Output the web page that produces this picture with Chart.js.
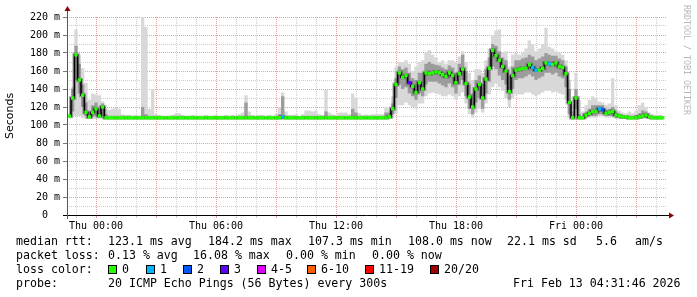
<!DOCTYPE html>
<html>
<head>
<meta charset="utf-8">
<script src="https://cdn.jsdelivr.net/npm/chart.js@4/dist/chart.umd.min.js"></script>
<style>
  body { margin: 0; background: #fff; }
  #wrap { position: relative; width: 697px; height: 297px; overflow: hidden; }
  canvas { position: absolute; left: 0; top: 0; }
  .t { position: absolute; font: 11.6px "DejaVu Sans Mono", monospace; color: #000; white-space: pre; line-height: 14px; }
  .box { position: absolute; width: 7px; height: 7px; border: 1px solid #000; }
  #rrd { position: absolute; left: 682px; top: 5px; font: 8.3px "DejaVu Sans Mono", monospace; color: #b8b8b8; writing-mode: vertical-rl; white-space: pre; }
</style>
</head>
<body>
<div id="wrap">
  <canvas id="c" width="697" height="297"></canvas>
  <div id="rrd">RRDTOOL / TOBI OETIKER</div>
  <div id="legend"></div>
</div>
<script>
// minutes relative to Thu 00:00, one sample every 10 min
const startMin = -80, stepMin = 10;

// median rtt (ms)
const med = [
  110,130,178,150,133,114,109,114,118,110,
  120,108,108,108,108,108,108,108,108,108,
  108,108,108,108,108,108,108,108,108,108,
  108,108,108,108,108,108,108,108,108,108,
  108,108,108,108,108,108,108,108,108,108,
  108,108,108,108,108,108,108,108,108,108,
  108,108,108,108,109,108,108,108,108,108,
  108,108,108,108,108,108,108,108,108,108,
  108,108,108,108,108,108,108,108,108,108,
  108,108,108,108,108,108,109,118,145,158,
  153,155,147,143,136,147,140,158,157,158,
  159,158,156,154,158,155,147,157,162,146,
  131,120,140,145,130,151,163,183,177,172,
  165,160,137,155,161,162,163,163,167,164,
  161,161,163,169,168,167,169,165,164,157,
  125,108,130,108,108,111,113,115,115,118,
  117,113,114,115,111,110,109,109,108,108,
  108,109,110,111,109,108,108,108,108
];
// smoke: highest / lowest ping
const hi = [
  128,142,206,178,163,147,128,135,134,133,
  126,118,117,118,119,118,112,111,111,110,
  111,110,222,209,118,140,112,111,110,110,
  110,111,113,113,111,110,110,111,110,110,
  110,111,110,110,111,110,110,111,110,111,
  110,112,114,133,115,111,110,111,111,110,
  111,110,112,120,136,115,111,111,112,110,
  112,116,116,115,116,112,111,139,114,112,
  111,114,114,114,112,135,130,113,111,112,
  111,112,112,112,112,120,118,132,165,170,
  170,172,168,160,165,170,172,180,183,178,
  175,170,172,168,172,172,170,176,182,170,
  158,150,162,162,158,172,185,200,205,206,
  180,182,165,178,180,178,180,185,194,190,
  182,185,190,208,187,185,182,180,178,172,
  150,115,158,128,115,122,128,132,130,126,
  125,122,124,152,122,116,114,113,115,113,
  116,122,125,120,114,112,111,111,111
];
const lo = [
  107,108,110,110,108,107,107,107,107,107,
  107,107,107,107,107,107,107,107,107,107,
  107,107,107,107,107,107,107,107,107,107,
  107,107,107,107,107,107,107,107,107,107,
  107,107,107,107,107,107,107,107,107,107,
  107,107,107,107,107,107,107,107,107,107,
  107,107,107,107,107,107,107,107,107,107,
  107,107,107,107,107,107,107,107,107,107,
  107,107,107,107,107,107,107,107,107,107,
  107,107,107,107,107,107,107,108,112,122,
  122,125,122,120,118,124,124,132,135,136,
  135,134,132,132,134,132,128,132,136,124,
  112,108,114,118,114,124,134,142,146,142,
  138,130,120,130,134,134,134,136,136,134,
  132,134,136,138,138,136,137,135,134,128,
  108,107,110,107,107,107,108,108,108,110,
  110,108,108,108,107,107,107,107,107,107,
  107,107,107,108,107,107,107,107,107
];
// smoke: dense middle part of the pings
const dhi = [
  114,140,188,168,145,125,115,122,125,118,
  124,112,109,109,109,109,109,109,109,109,
  109,109,120,112,109,110,109,109,109,109,
  109,109,109,109,109,109,109,109,109,109,
  109,109,109,109,109,109,109,109,109,109,
  109,109,109,125,110,109,109,109,109,109,
  109,109,109,112,132,110,109,109,109,109,
  109,110,110,109,110,109,109,115,109,109,
  109,109,109,109,109,118,114,109,109,109,
  109,109,109,109,109,114,114,124,152,165,
  162,164,158,152,150,158,158,168,170,168,
  167,166,164,162,166,164,158,168,178,160,
  145,135,150,155,145,162,175,190,188,182,
  175,172,155,165,172,172,174,175,178,176,
  172,174,176,180,178,177,177,174,172,165,
  140,110,140,112,110,114,118,122,122,122,
  122,117,118,120,115,112,111,110,110,110,
  111,113,116,115,111,110,109,109,109
];
const dlo = [
  108,115,150,135,120,110,108,109,110,108,
  110,107,107,107,107,107,107,107,107,107,
  107,107,107,107,107,107,107,107,107,107,
  107,107,107,107,107,107,107,107,107,107,
  107,107,107,107,107,107,107,107,107,107,
  107,107,107,107,107,107,107,107,107,107,
  107,107,107,107,107,107,107,107,107,107,
  107,107,107,107,107,107,107,107,107,107,
  107,107,107,107,107,107,107,107,107,107,
  107,107,107,107,107,107,108,112,130,145,
  140,142,135,132,128,135,132,145,148,148,
  148,146,144,142,146,142,135,145,150,132,
  118,112,125,130,118,135,148,165,162,155,
  150,145,128,140,150,152,152,154,156,154,
  150,152,154,158,158,156,158,154,152,142,
  112,107,118,107,107,108,110,110,110,112,
  112,110,110,110,108,108,107,107,107,107,
  107,107,108,108,107,107,107,107,107
];
// samples with packet loss: index and loss class
const lossIdx = [64, 102, 139, 140, 144, 159, 160];
const lossLevel = [1, 3, 1, 1, 1, 1, 2];

const lossLabels = ["0", "1", "2", "3", "4-5", "6-10", "11-19", "20/20"];
const lossColors = ["#26ff00", "#00b8ff", "#0059ff", "#5e00ff", "#dd00ff", "#ff5e00", "#ff0000", "#a10000"];

// x grid every hour, labels every 6 hours
const gridMinutes = [];
for (let m = -60; m <= 1680; m += 60) gridMinutes.push(m);
const tickMinutes = [0, 360, 720, 1080, 1440];
const tickNames = ["Thu 00:00", "Thu 06:00", "Thu 12:00", "Thu 18:00", "Fri 00:00"];

const times = med.map((_, i) => startMin + i * stepMin);
const pts = arr => arr.map((v, i) => ({ x: times[i], y: v }));

const ptColors = med.map(() => lossColors[0]);
lossIdx.forEach((k, j) => { ptColors[k] = lossColors[lossLevel[j]]; });

const gridGray = "#cdcdcd";
const gridRed = "#e3a0a0";

const axesPlugin = {
  id: "axes",
  afterDraw(chart) {
    const { ctx, chartArea: a } = chart;
    ctx.save();
    ctx.lineWidth = 1;
    ctx.strokeStyle = "#000";
    ctx.beginPath();
    ctx.moveTo(a.left - 4, a.bottom + 0.5);
    ctx.lineTo(a.right + 3, a.bottom + 0.5);
    ctx.stroke();
    ctx.strokeStyle = "#555";
    ctx.beginPath();
    ctx.moveTo(a.left + 0.5, a.bottom + 4);
    ctx.lineTo(a.left + 0.5, a.top - 7);
    ctx.stroke();
    ctx.fillStyle = "#8b0000";
    ctx.beginPath();
    ctx.moveTo(a.right + 2, a.bottom - 2.5);
    ctx.lineTo(a.right + 7, a.bottom + 0.5);
    ctx.lineTo(a.right + 2, a.bottom + 3.5);
    ctx.fill();
    ctx.beginPath();
    ctx.moveTo(a.left - 2.5, a.top - 6);
    ctx.lineTo(a.left + 0.5, a.top - 11);
    ctx.lineTo(a.left + 3.5, a.top - 6);
    ctx.fill();
    ctx.restore();
  }
};

const bandOpts = { borderWidth: 0, borderColor: "transparent", pointRadius: 0, stepped: "middle" };

new Chart(document.getElementById("c"), {
  type: "line",
  data: {
    datasets: [
      { data: pts(med), showLine: false, pointStyle: "rect", pointRadius: 2.4, pointBorderWidth: 0,
        pointBackgroundColor: ptColors, order: 0 },
      { data: pts(med), borderColor: "#000", borderWidth: 1.5, pointRadius: 0, stepped: "middle", order: 1 },
      { data: pts(med), borderColor: "rgba(40,40,40,0.35)", borderWidth: 4, pointRadius: 0, stepped: "middle", order: 1.5 },
      { data: pts(dhi), fill: "+1", backgroundColor: "#9c9c9c", ...bandOpts, order: 2 },
      { data: pts(dlo), fill: false, ...bandOpts, order: 2 },
      { data: pts(hi), fill: "+1", backgroundColor: "#d8d8d8", ...bandOpts, order: 3 },
      { data: pts(lo), fill: false, ...bandOpts, order: 3 }
    ]
  },
  options: {
    responsive: false,
    animation: false,
    events: [],
    layout: { padding: { left: 0, top: 17, right: 30, bottom: 0 } },
    plugins: { legend: { display: false }, tooltip: { enabled: false } },
    scales: {
      x: {
        type: "linear", min: -87, max: 1713,
        afterFit(s) { s.height = 82; },
        afterBuildTicks(s) { s.ticks = gridMinutes.map(v => ({ value: v })); },
        ticks: {
          autoSkip: false, maxRotation: 0, padding: 2,
          color: "#000", font: { family: "DejaVu Sans Mono", size: 10 },
          callback: v => { const k = tickMinutes.indexOf(v); return k < 0 ? "" : tickNames[k]; }
        },
        grid: {
          color: c => (c.tick.value % 180 ? gridGray : gridRed),
          tickLength: 3,
          tickColor: c => (c.tick.value % 180 ? gridGray : gridRed)
        },
        border: { display: false, dash: [1, 1] }
      },
      y: {
        min: 0, max: 220,
        afterFit(s) { s.width = 67; },
        ticks: {
          stepSize: 10, autoSkip: false, padding: 3,
          color: "#000", font: { family: "DejaVu Sans Mono", size: 10 },
          callback: v => (v % 20 ? "" : (v === 0 ? "0  " : v + " m"))
        },
        grid: {
          color: c => (c.tick.value % 20 ? gridGray : gridRed),
          tickLength: 4,
          tickColor: c => (c.tick.value % 20 ? "transparent" : "#777")
        },
        border: { display: false, dash: [1, 1] },
        title: { display: true, text: "Seconds", color: "#000",
                 font: { family: "DejaVu Sans", size: 11 }, padding: { top: 4, bottom: 0 } }
      }
    }
  },
  plugins: [axesPlugin]
});

// statistics text below the graph
const lines = [
  [234, [[16, "median rtt:"], [108, "123.1 ms avg"], [208, "184.2 ms max"], [308, "107.3 ms min"],
         [408, "108.0 ms now"], [507, "22.1 ms sd"], [596, "5.6"], [635, "am/s"]]],
  [248, [[16, "packet loss:"], [108, "0.13 % avg"], [193, "16.08 % max"], [286, "0.00 % min"], [372, "0.00 % now"]]],
  [262, [[16, "loss color:"]]],
  [276, [[16, "probe:"], [108, "20 ICMP Echo Pings (56 Bytes) every 300s"], [513, "Fri Feb 13 04:31:46 2026"]]]
];
const boxX = [108, 146, 183, 220, 257, 307, 365, 430];
const legend = document.getElementById("legend");
lines.forEach(([top, parts]) => {
  parts.forEach(([left, txt]) => {
    const d = document.createElement("div");
    d.className = "t";
    d.style.left = left + "px";
    d.style.top = top + "px";
    d.textContent = txt;
    legend.appendChild(d);
  });
});
lossLabels.forEach((lab, i) => {
  const b = document.createElement("div");
  b.className = "box";
  b.style.left = boxX[i] + "px";
  b.style.top = "265px";
  b.style.background = lossColors[i];
  legend.appendChild(b);
  const d = document.createElement("div");
  d.className = "t";
  d.style.left = (boxX[i] + 14) + "px";
  d.style.top = "262px";
  d.textContent = lab;
  legend.appendChild(d);
});
</script>
</body>
</html>
